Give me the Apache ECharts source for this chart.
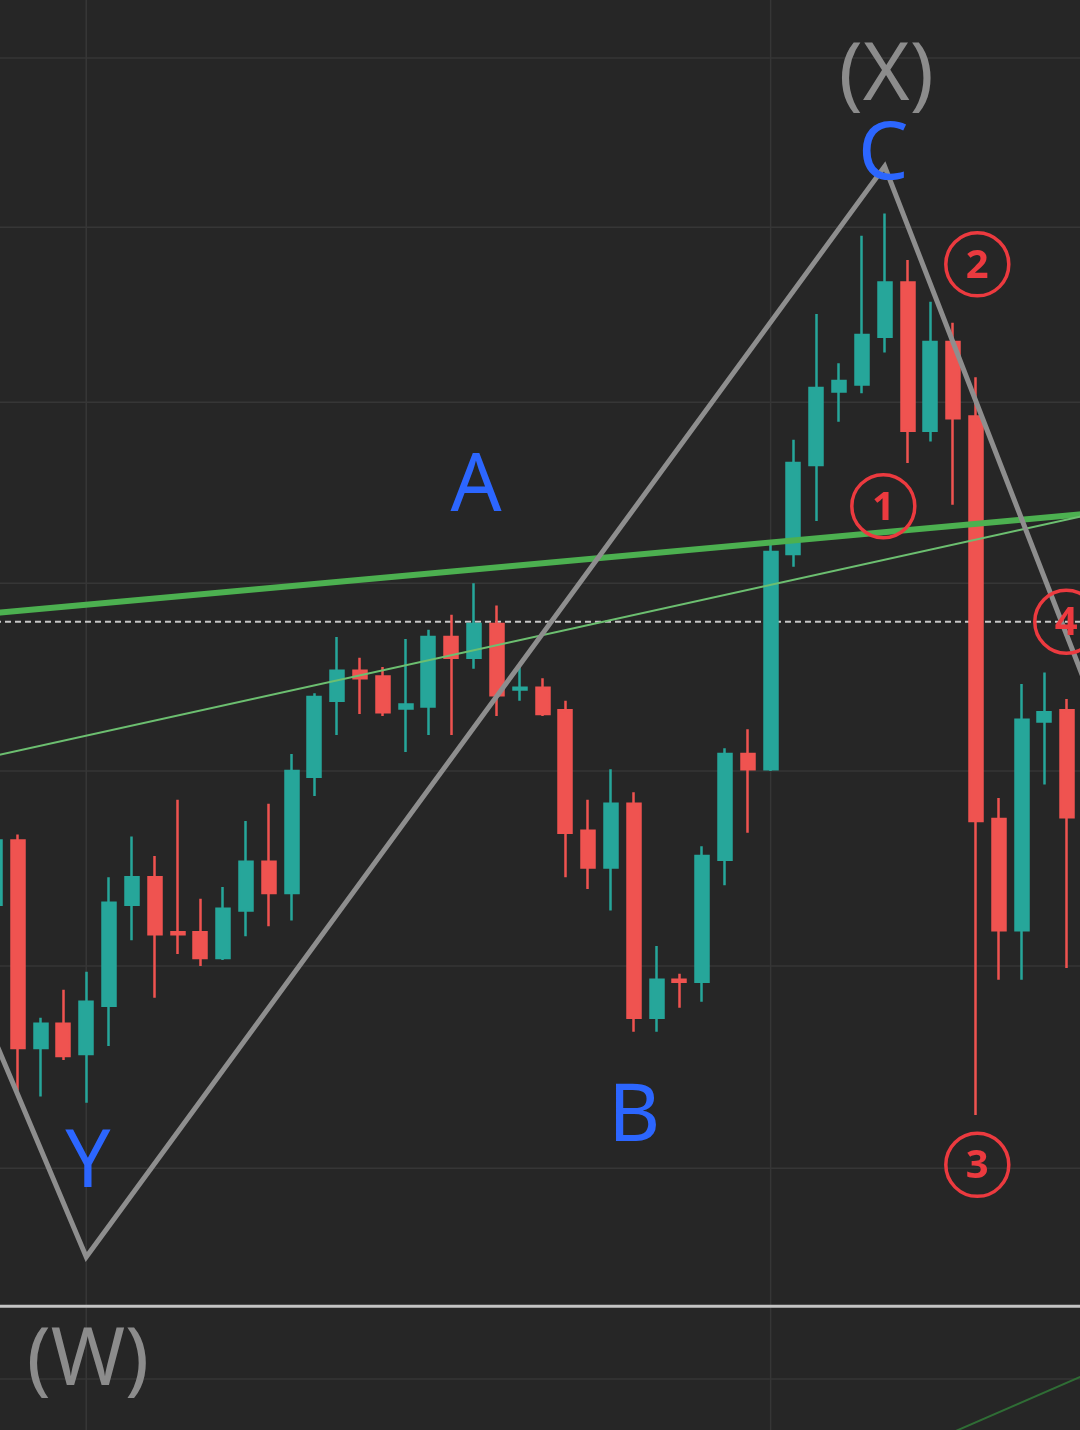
<!DOCTYPE html>
<html>
<head>
<meta charset="utf-8">
<script src="https://cdn.jsdelivr.net/npm/echarts@6/dist/echarts.min.js"></script>
<style>
  html, body { margin: 0; padding: 0; background: #262626; overflow: hidden; width: 1080px; height: 1430px; }
  /* the plot runs a few pixels past both window edges so the first candle is cut in half */
  #chart { position: absolute; left: -5px; top: 0; width: 1095px; height: 1430px; }
</style>
</head>
<body>
<div id="chart"></div>
<script>
// Daily candles, each [open, close, low, high]
const candles = [
  [26.31, 26.64, 26.26, 26.70],
  [26.64, 25.59, 25.38, 26.67],
  [25.59, 25.71, 25.35, 25.74],
  [25.71, 25.55, 25.53, 25.88],
  [25.56, 25.82, 25.32, 25.97],
  [25.80, 26.32, 25.60, 26.45],
  [26.31, 26.45, 26.13, 26.66],
  [26.45, 26.16, 25.84, 26.56],
  [26.17, 26.16, 26.06, 26.85],
  [26.17, 26.04, 26.00, 26.34],
  [26.04, 26.29, 26.03, 26.40],
  [26.28, 26.53, 26.15, 26.74],
  [26.53, 26.37, 26.20, 26.83],
  [26.37, 27.00, 26.23, 27.09],
  [26.97, 27.39, 26.87, 27.41],
  [27.37, 27.53, 27.19, 27.71],
  [27.53, 27.49, 27.30, 27.60],
  [27.50, 27.31, 27.29, 27.55],
  [27.33, 27.35, 27.10, 27.70],
  [27.34, 27.71, 27.19, 27.75],
  [27.71, 27.60, 27.19, 27.83],
  [27.60, 27.78, 27.54, 28.00],
  [27.78, 27.40, 27.29, 27.88],
  [27.43, 27.44, 27.37, 27.55],
  [27.44, 27.30, 27.29, 27.49],
  [27.32, 26.68, 26.45, 27.37],
  [26.69, 26.50, 26.39, 26.85],
  [26.50, 26.83, 26.28, 27.01],
  [26.83, 25.74, 25.67, 26.89],
  [25.74, 25.93, 25.67, 26.10],
  [25.93, 25.92, 25.79, 25.96],
  [25.92, 26.56, 25.82, 26.61],
  [26.54, 27.09, 26.41, 27.12],
  [27.09, 27.01, 26.68, 27.22],
  [27.01, 28.17, 27.00, 28.21],
  [28.16, 28.66, 28.09, 28.79],
  [28.65, 29.08, 28.34, 29.50],
  [29.06, 29.12, 28.89, 29.22],
  [29.10, 29.38, 29.05, 29.95],
  [29.37, 29.68, 29.28, 30.08],
  [29.68, 28.84, 28.66, 29.81],
  [28.84, 29.34, 28.78, 29.57],
  [29.34, 28.91, 28.43, 29.45],
  [28.92, 26.74, 25.26, 29.14],
  [26.75, 26.18, 25.93, 26.86],
  [26.18, 27.27, 25.93, 27.46],
  [27.26, 27.31, 26.93, 27.52],
  [27.32, 26.76, 25.99, 27.38]
];

// One empty slot after the last candle
const slotCount = candles.length + 1;
const categories = Array.from({ length: slotCount }, (_, i) => 'D' + (i + 1));

// Price range of the log scale and its grid levels
const priceMin = 23.7645;
const priceMax = 31.350;
const gridPrices = [24, 25, 26, 27, 28, 29, 30, 31];
const gridBars = [4, 34];

// Wave path (W)-Y ... C (X) and the leg down from C
const waveBars = [0, 4, 39, 48];
const wavePrices = [25.626, 24.575, 30.356, 27.401];

// Trend lines
const upperTrendBars = [0, 48];
const upperTrendPrices = [27.840, 28.382];
const lowerTrendBars = [0, 48];
const lowerTrendPrices = [27.080, 28.376];
const lowChannelBars = [41, 48];
const lowChannelPrices = [23.709, 24.030];

// Horizontal levels
const supportLevel = 24.341;
const pivotLevel = 27.793;

// Wave labels
const waveLabels = ['A', 'B', 'Y', 'C', '(X)', '(W)'];
const waveLabelBars = [21.09, 28.02, 4.07, 38.94, 39.07, 4.07];
const waveLabelPrices = [28.521, 25.244, 25.022, 30.415, 30.882, 24.081];
const waveLabelColors = ['#2c66ff', '#2c66ff', '#2c66ff', '#2c66ff', '#8c8c8c', '#8c8c8c'];

// Sub-wave counts in circles
const countLabels = ['1', '2', '3', '4'];
const countBars = [38.94, 43.06, 43.06, 46.96];
const countPrices = [28.422, 29.785, 25.017, 27.793];

const UP = '#26a69a';
const DOWN = '#ef5350';
const COUNT_RED = '#ec3a3f';

function segment(xs, ys) {
  return xs.map((x, i) => [x, ys[i]]);
}

function lineSeries(data, style, z) {
  return {
    type: 'line',
    xAxisIndex: 1,
    yAxisIndex: 0,
    data: data,
    symbol: 'none',
    silent: true,
    animation: false,
    lineStyle: style,
    z: z
  };
}

const series = [];

// background grid
gridPrices.forEach(p => {
  series.push(lineSeries([[0, p], [slotCount - 1, p]], { color: '#363636', width: 1.5 }, 1));
});
gridBars.forEach(b => {
  series.push(lineSeries([[b, priceMin], [b, priceMax]], { color: '#363636', width: 1.5 }, 1));
});

// dashed pivot level (behind the candles)
series.push(lineSeries([[0, pivotLevel], [slotCount - 1, pivotLevel]],
  { color: '#c8c8c8', width: 2, type: [6, 4] }, 1.5));

// candles
series.push({
  type: 'candlestick',
  xAxisIndex: 0,
  yAxisIndex: 0,
  data: candles,
  barWidth: 13.5,
  animation: false,
  silent: true,
  itemStyle: {
    color: UP,
    color0: DOWN,
    borderColor: UP,
    borderColor0: DOWN,
    borderWidth: 2.5
  },
  z: 2
});

// solid support level
series.push(lineSeries([[0, supportLevel], [slotCount - 1, supportLevel]],
  { color: '#c4c4c4', width: 3 }, 3));

// trend lines
series.push(lineSeries(segment(upperTrendBars, upperTrendPrices), { color: '#4cb050', width: 6 }, 3));
series.push(lineSeries(segment(lowerTrendBars, lowerTrendPrices), { color: '#6cbf70', width: 2 }, 3));
series.push(lineSeries(segment(lowChannelBars, lowChannelPrices), { color: '#2f6d35', width: 2 }, 3));

// wave path
series.push(lineSeries(segment(waveBars, wavePrices), { color: '#8e8e8e', width: 5, join: 'miter' }, 4));

// circled counts
series.push({
  type: 'scatter',
  xAxisIndex: 1,
  yAxisIndex: 0,
  silent: true,
  animation: false,
  symbol: 'circle',
  symbolSize: 63,
  data: countLabels.map((n, i) => ({ name: n, value: [countBars[i], countPrices[i]] })),
  itemStyle: { color: 'rgba(0,0,0,0)', borderColor: COUNT_RED, borderWidth: 3.5, opacity: 1 },
  label: {
    show: true,
    position: 'inside',
    formatter: '{b}',
    color: COUNT_RED,
    opacity: 1,
    fontFamily: 'Noto Sans',
    fontSize: 40,
    fontWeight: 'bold',
    offset: [0, 2],
    textBorderWidth: 0
  },
  z: 5
});

// wave letters
series.push({
  type: 'scatter',
  xAxisIndex: 1,
  yAxisIndex: 0,
  silent: true,
  animation: false,
  symbol: 'circle',
  symbolSize: 1,
  data: waveLabels.map((t, i) => ({
    name: t,
    value: [waveLabelBars[i], waveLabelPrices[i]],
    label: { color: waveLabelColors[i] }
  })),
  itemStyle: { color: 'rgba(0,0,0,0)', opacity: 1 },
  label: {
    show: true,
    position: 'inside',
    formatter: '{b}',
    opacity: 1,
    fontFamily: 'Noto Sans',
    fontSize: 80,
    fontWeight: 'normal',
    textBorderWidth: 0
  },
  z: 6
});

const chart = echarts.init(document.getElementById('chart'), null, { renderer: 'canvas' });
chart.setOption({
  backgroundColor: '#262626',
  animation: false,
  grid: { left: 0, right: 0, top: 0, bottom: 0, containLabel: false },
  xAxis: [
    { type: 'category', data: categories, boundaryGap: false, show: false },
    { type: 'value', min: 0, max: slotCount - 1, show: false, splitLine: { show: false } }
  ],
  yAxis: {
    type: 'log',
    logBase: 10,
    min: priceMin,
    max: priceMax,
    show: false,
    splitLine: { show: false }
  },
  series: series
});
</script>
</body>
</html>
